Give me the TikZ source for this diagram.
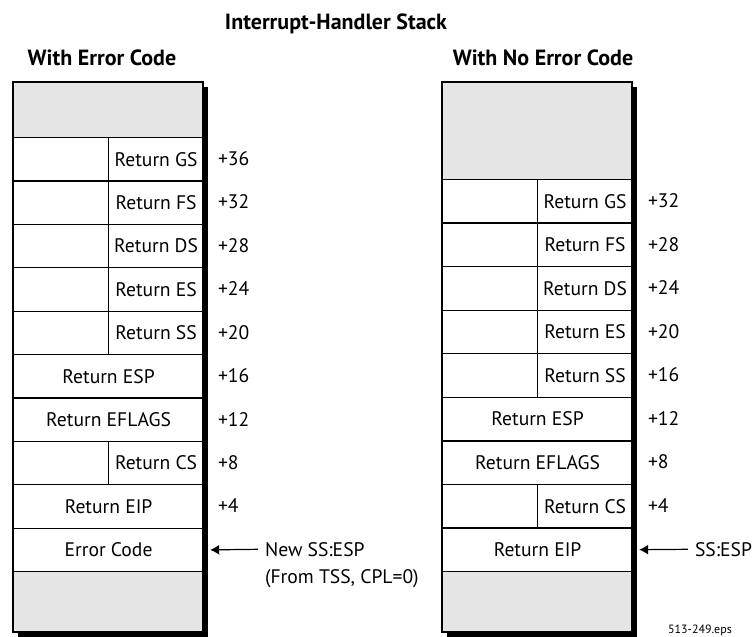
\documentclass[tikz,border=0pt]{standalone}
\usepackage{fontspec}
\setmainfont{PT Sans}
\usetikzlibrary{positioning, calc, arrows.meta}

\tikzset{
    cella/.style={draw, line width=0.6pt, minimum width=47.5pt, minimum height=21.7pt, inner sep=0pt, anchor=north west, font=\fontsize{9.8}{11}\selectfont},
    riga/.style={cella, minimum width=95pt},
    grigio/.style={riga, fill=gray!20},
    offset/.style={anchor=west, font=\fontsize{9.8}{11}\selectfont},
    titolo/.style={font=\bfseries\fontsize{11}{13}\selectfont},
    ombra/.style={fill=black},
    cornice/.style={draw, line width=1pt},
    freccia/.style={-{Latex[length=4.5pt,width=5pt]}, line width=0.6pt}
}

\begin{document}
\begin{tikzpicture}[x=0.5pt, y=-0.5pt]
    \useasboundingbox (0,0) rectangle (752,637);
    %titoli
    \node[titolo] (tit) at (336,24) {Interrupt-Handler Stack};
    \node[titolo] (titS) at (102,58) {With Error Code};
    \node[titolo] (titD) at (543,58) {With No Error Code};

    %pila sinistra: ombra e fondo
    \fill[ombra] (18,87) rectangle (208,637);
    \fill[white] (13,82) rectangle (203,632);
    %celle
    \node[grigio, minimum height=27.5pt] (sTop) at (13,82) {};
    \foreach \r [count=\i from 0] in {GS,FS,DS,ES,SS}{
        \node[cella] (sv\r) at (13,137+43.4*\i) {};
        \node[cella] (s\r) at (108,137+43.4*\i) {Return \r};
    }
    \node[riga] (sESP) at (13,354) {Return ESP};
    \node[riga] (sEFL) at (13,397.4) {Return EFLAGS};
    \node[cella] (svCS) at (13,440.8) {};
    \node[cella] (sCS) at (108,440.8) {Return CS};
    \node[riga] (sEIP) at (13,484.2) {Return EIP};
    \node[riga] (sErr) at (13,527.6) {Error Code};
    \node[grigio, minimum height=30.5pt] (sBot) at (13,571) {};
    \draw[cornice] (13,82) rectangle (203,632);
    %offset
    \foreach \o [count=\i from 0] in {36,32,28,24,20,16,12,8,4}
        \node[offset] (so\o) at (211,158.7+43.4*\i) {+\o};
    %puntatore
    \node[offset] (nuovo) at (258,549.3) {New SS:ESP};
    \node[offset] (tss) at (258,579) {(From TSS, CPL=0)};
    \draw[freccia] (nuovo.west) -- ([xshift=3pt]sErr.east);

    %pila destra: ombra e fondo
    \fill[ombra] (447,87) rectangle (637,637);
    \fill[white] (442,82) rectangle (632,632);
    %celle
    \node[grigio, minimum height=48.5pt] (dTop) at (442,82) {};
    \foreach \r [count=\i from 0] in {GS,FS,DS,ES,SS}{
        \node[cella] (dv\r) at (442,179+43.55*\i) {};
        \node[cella] (d\r) at (537,179+43.55*\i) {Return \r};
    }
    \node[riga] (dESP) at (442,396.75) {Return ESP};
    \node[riga] (dEFL) at (442,440.3) {Return EFLAGS};
    \node[cella] (dvCS) at (442,483.85) {};
    \node[cella] (dCS) at (537,483.85) {Return CS};
    \node[riga] (dEIP) at (442,527.4) {Return EIP};
    \node[grigio, minimum height=30.5pt] (dBot) at (442,571) {};
    \draw[cornice] (442,82) rectangle (632,632);
    %offset
    \foreach \o [count=\i from 0] in {32,28,24,20,16,12,8,4}
        \node[offset] (do\o) at (641,200.8+43.55*\i) {+\o};
    %puntatore
    \node[offset] (ssesp) at (688,549.3) {SS:ESP};
    \draw[freccia] (ssesp.west) -- ([xshift=3pt]dEIP.east);

    %nome figura
    \node[font=\fontsize{6}{7}\selectfont] (fig) at (700,630) {513-249.eps};
\end{tikzpicture}
\end{document}
